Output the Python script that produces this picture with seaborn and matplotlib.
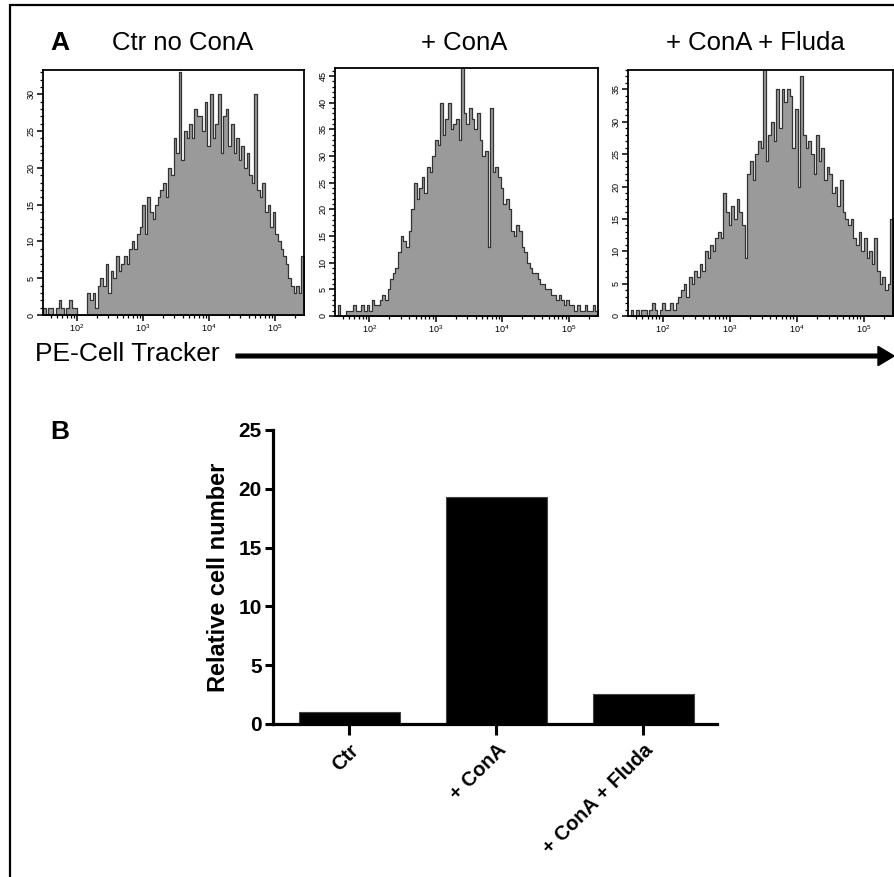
import numpy as np
import pandas as pd
import matplotlib
matplotlib.use("Agg")
import matplotlib.pyplot as plt
import matplotlib.ticker as mticker
from matplotlib.patches import Rectangle, FancyArrow
import seaborn as sns

sns.set_style("white")
plt.rcParams['font.family'] = ['Liberation Sans', 'DejaVu Sans']
plt.rcParams['text.color'] = 'black'
plt.rcParams['axes.labelcolor'] = 'black'
plt.rcParams['xtick.color'] = 'black'
plt.rcParams['ytick.color'] = 'black'

# ---- panel A: flow histograms (counts per log channel)
log_lo, log_hi, n_bins = 1.485, 5.44, 100
titles = ["Ctr no ConA", "+ ConA", "+ ConA + Fluda"]

ctr_counts = [1, 0, 1, 1, 0, 1, 2, 1, 0, 1, 2, 1, 1, 0, 0, 0, 0,
              3, 2, 3, 1, 4, 5, 4, 7, 3, 6, 5, 8, 6, 7,
              8, 7, 9, 10, 9, 11, 12, 15, 11, 16,
              14, 13, 15, 16, 17, 18, 16, 20, 19, 24,
              22, 33, 21, 25, 24, 26, 24, 28, 27, 27,
              25, 29, 23, 30, 24, 26, 30, 22, 27, 28,
              23, 26, 22, 24, 21, 23, 20, 22, 19, 18,
              30, 17, 16, 18, 14, 15, 12, 14, 11, 10,
              9, 8, 7, 5, 4, 3, 4, 3, 8]

cona_counts = [0, 2, 0, 0, 1, 1, 1, 2, 1, 1,
               2, 1, 2, 1, 3, 2, 2,
               3, 4, 3, 5, 7, 8, 9, 12, 15,
               14, 13, 16, 20, 25, 22, 24, 26, 23, 28,
               27, 30, 33, 32, 40, 34, 37, 40, 35, 36,
               37, 33, 47, 38, 36, 39, 37, 35, 38, 33,
               30, 31, 13, 39, 27, 28, 26, 24, 21, 22,
               20, 16, 15, 17, 16, 13, 12, 10, 9, 8,
               8, 7, 6, 6, 5, 5, 4, 4, 3, 4,
               3, 2, 3, 2, 2, 1, 2, 1, 1, 2,
               1, 1, 2, 1]

fluda_counts = [0, 1, 0, 1, 0, 1, 1, 0, 1, 2,
                1, 0, 1, 2, 1, 1, 2, 1, 2,
                3, 4, 5, 3, 6, 5, 7, 6, 8, 7,
                10, 9, 11, 10, 12, 13, 12, 19, 16, 14,
                17, 15, 18, 16, 14, 9, 22, 24, 21, 25,
                27, 26, 39, 24, 28, 30, 27, 35, 29, 35,
                33, 35, 34, 26, 32, 20, 37, 28, 26, 27,
                25, 22, 28, 24, 26, 21, 23, 22, 19, 20,
                17, 21, 16, 15, 14, 15, 12, 11, 13, 10,
                12, 9, 10, 8, 12, 7, 5, 6, 4, 5, 15]

hist_counts = [ctr_counts, cona_counts, fluda_counts]
hist_ymax = [33.3, 46.5, 38.0]

# ---- panel B: bar chart
bar_labels = ["Ctr", "+ ConA", "+ ConA + Fluda"]
bar_values = [1.0, 19.3, 2.55]

fig = plt.figure(figsize=(8.94, 8.77), dpi=100)

# outer frame
fig.patches.append(Rectangle((10 / 894, -0.05), 1.2, 1 - 5 / 877 + 0.05,
                             transform=fig.transFigure, fill=False,
                             edgecolor='black', linewidth=1.6))

hist_pos = [[0.0481, 0.6408, 0.2920, 0.2794],
            [0.3747, 0.6397, 0.2942, 0.2828],
            [0.7025, 0.6397, 0.2964, 0.2805]]

width = (log_hi - log_lo) / n_bins
channels = 10 ** (log_lo + (np.arange(n_bins) + 0.5) * width)

for pos, counts, ymax in zip(hist_pos, hist_counts, hist_ymax):
    ax = fig.add_axes(pos)
    df = pd.DataFrame({"channel": channels, "count": counts})
    sns.histplot(data=df, x="channel", weights="count", bins=n_bins,
                 binrange=(log_lo, log_hi), log_scale=True, element="step",
                 fill=True, color="#9a9a9a", alpha=1.0,
                 edgecolor="#333333", linewidth=0.9, ax=ax)
    ax.set_xlim(10 ** log_lo, 10 ** log_hi)
    ax.set_ylim(0, ymax)
    ax.set_xlabel("")
    ax.set_ylabel("")
    ax.xaxis.set_major_locator(mticker.LogLocator(base=10, numticks=10))
    ax.xaxis.set_minor_locator(mticker.LogLocator(base=10, subs=np.arange(2, 10), numticks=20))
    ax.xaxis.set_minor_formatter(mticker.NullFormatter())
    ax.yaxis.set_major_locator(mticker.MultipleLocator(5))
    ax.yaxis.set_minor_locator(mticker.MultipleLocator(1))
    ax.tick_params(which='major', direction='out', length=4, width=1.1,
                   labelsize=6.5, bottom=True, left=True, pad=1.5)
    ax.tick_params(which='minor', direction='out', length=2.2, width=0.9,
                   bottom=True, left=True)
    ax.tick_params(axis='y', labelrotation=90)
    for lab in ax.get_yticklabels():
        lab.set_va('center')
    for sp in ax.spines.values():
        sp.set_visible(True)
        sp.set_color('black')
        sp.set_linewidth(1.3)

# panel A labels
fig.text(60 / 894, 1 - 43 / 877, "A", fontsize=19, fontweight='bold',
         ha='center', va='center')
for cx, t in zip([183, 464, 755], titles):
    fig.text(cx / 894, 1 - 43 / 877, t, fontsize=18.5, ha='center', va='center')

fig.text(35 / 894, 1 - 354 / 877, "PE-Cell Tracker", fontsize=19,
         ha='left', va='center')
fig.patches.append(FancyArrow(
    236 / 894, 1 - 356 / 877, (878 - 236) / 894, 0,
    width=0.0042, head_width=0.022, head_length=0.018,
    length_includes_head=False, transform=fig.transFigure,
    color='black'))

# panel B
fig.text(60 / 894, 1 - 432 / 877, "B", fontsize=19, fontweight='bold',
         ha='center', va='center')
axb = fig.add_axes([0.3054, 0.1745, 0.4966, 0.3352])
sns.barplot(x=bar_labels, y=bar_values, color='black', width=0.69,
            edgecolor='#444444', linewidth=0.8, ax=axb)
axb.set_xlim(-0.52, 2.5)
axb.set_ylim(0, 25)
axb.yaxis.set_major_locator(mticker.MultipleLocator(5))
sns.despine(ax=axb)
for sp in ['left', 'bottom']:
    axb.spines[sp].set_linewidth(2.3)
    axb.spines[sp].set_color('black')
axb.tick_params(axis='y', direction='out', length=6, width=2.2,
                labelsize=15, left=True, pad=2)
axb.tick_params(axis='x', direction='out', length=8, width=2.2,
                labelsize=14.5, bottom=True, pad=4)
for lab in axb.get_yticklabels():
    lab.set_fontweight('bold')
axb.set_xticks(range(len(bar_labels)))
axb.set_xticklabels(bar_labels, rotation=45, ha='right',
                    rotation_mode='anchor', fontweight='bold')
axb.set_ylabel("Relative cell number", fontsize=17, fontweight='bold',
               labelpad=6)

fig.savefig("out.png", dpi=100)
